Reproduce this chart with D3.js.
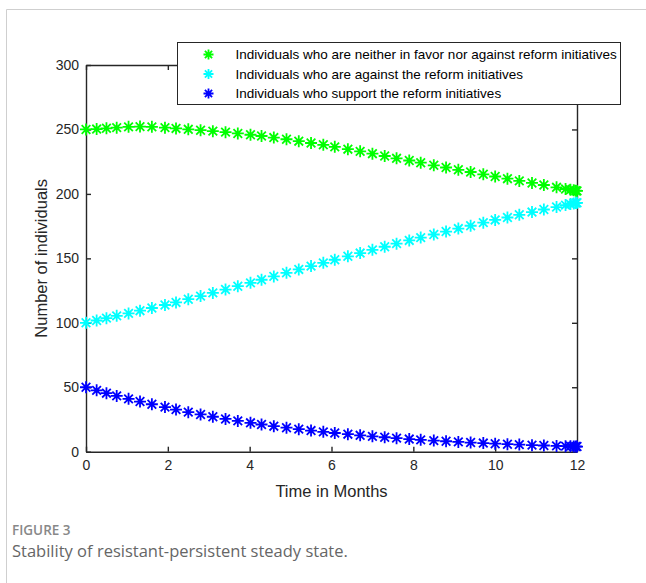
<!DOCTYPE html>
<html>
<head>
<meta charset="utf-8">
<script src="https://cdn.jsdelivr.net/npm/d3@7"></script>
<style>
  body { margin: 0; background: #fff; }
  svg { display: block; }
</style>
</head>
<body>
<script>
// time points (months) - solver output steps
var months = [0, 0.26, 0.5, 0.75, 1.04, 1.32, 1.61, 1.93, 2.2, 2.5, 2.8, 3.1, 3.41, 3.71, 4.02,
  4.29, 4.59, 4.9, 5.2, 5.5, 5.8, 6.08, 6.4, 6.7, 7.0, 7.3, 7.59, 7.9, 8.18, 8.5, 8.8, 9.1,
  9.4, 9.71, 10.0, 10.3, 10.59, 10.9, 11.19, 11.5, 11.72, 11.84, 11.92, 11.97, 12];

var neutral = [250, 250.3, 250.9, 251.4, 252, 252.2, 252, 251.4, 250.8, 250.1, 249.4, 248.7, 247.9, 246.9, 245.9,
  244.9, 243.7, 242.4, 240.9, 239.5, 238.1, 236.5, 234.7, 233, 231.2, 229.4, 227.6, 225.9, 224.2, 222.2, 220.5, 218.7,
  217, 215.2, 213.5, 211.8, 210.1, 208.5, 206.9, 205.1, 203.8, 203.2, 202.8, 202.5, 202.3];

var against = [100, 101.8, 103.6, 105.4, 107.3, 109.4, 111.5, 113.8, 115.8, 118.3, 120.7, 123.2, 125.8, 128.4, 131,
  133.4, 136, 138.8, 141.4, 144, 146.5, 148.9, 151.6, 154.1, 156.6, 159, 161.4, 163.9, 166.1, 168.5, 170.8, 173.1,
  175.3, 177.7, 179.8, 181.7, 183.8, 185.9, 187.9, 189.8, 191.3, 192.1, 192.6, 192.9, 193.1];

var support = [50, 47.6, 45.4, 43.3, 41, 38.9, 36.8, 34.6, 32.7, 30.7, 28.9, 27.1, 25.4, 23.9, 22.4,
  21.1, 19.8, 18.6, 17.5, 16.4, 15.4, 14.5, 13.6, 12.7, 11.9, 11.2, 10.5, 9.8, 9.2, 8.6, 8.1, 7.6,
  7.1, 6.7, 6.2, 5.8, 5.5, 5.1, 4.8, 4.5, 4.3, 4.2, 4.1, 4.05, 4.0];

var seriesNames = [
  "Individuals who are neither in favor nor against reform initiatives",
  "Individuals who are against the reform initiatives",
  "Individuals who support the reform initiatives"
];
var seriesColors = ["#00ff00", "#00ffff", "#0000ff"];
var seriesValues = [neutral, against, support];

var xTicks = [0, 2, 4, 6, 8, 10, 12];
var yTicks = [0, 50, 100, 150, 200, 250, 300];

var W = 646, H = 583;
var pLeft = 86, pRight = 577, pTop = 65, pBottom = 451.7;
var axisColor = "#262626";
var font = "Arial, 'Liberation Sans', Helvetica, sans-serif";

var svg = d3.select("body").append("svg")
  .attr("width", W)
  .attr("height", H);

// card frame
svg.append("path")
  .attr("d", "M6.5," + H + "V9.5H" + W)
  .attr("fill", "none")
  .attr("stroke", "#cfcfcf")
  .attr("stroke-width", 1);

var xScale = d3.scaleLinear().domain([0, 12]).range([pLeft, pRight]);
var yScale = d3.scaleLinear().domain([0, 300]).range([pBottom, pTop]);

// asterisk marker, like matlab '*'
function star(r) {
  var d = r * 0.72;
  return "M" + (-r) + ",0H" + r + "M0," + (-r) + "V" + r +
    "M" + (-d) + "," + (-d) + "L" + d + "," + d +
    "M" + (-d) + "," + d + "L" + d + "," + (-d);
}

// axes
function styleAxis(g) {
  g.selectAll("path.domain").attr("stroke", axisColor).attr("stroke-width", 1.4);
  g.selectAll(".tick line").attr("stroke", axisColor).attr("stroke-width", 1.4);
  g.selectAll(".tick text").attr("fill", axisColor)
    .attr("font-family", font).attr("font-size", "14px");
}

svg.append("g")
  .attr("transform", "translate(0," + pBottom + ")")
  .call(d3.axisBottom(xScale).tickValues(xTicks).tickSize(-5).tickSizeOuter(0).tickPadding(8))
  .call(styleAxis);

svg.append("g")
  .attr("transform", "translate(0," + pTop + ")")
  .call(d3.axisTop(xScale).tickValues(xTicks).tickSize(-5).tickSizeOuter(0).tickFormat(""))
  .call(styleAxis);

svg.append("g")
  .attr("transform", "translate(" + pLeft + ",0)")
  .call(d3.axisLeft(yScale).tickValues(yTicks).tickSize(-5).tickSizeOuter(0).tickPadding(7))
  .call(styleAxis);

svg.append("g")
  .attr("transform", "translate(" + pRight + ",0)")
  .call(d3.axisRight(yScale).tickValues(yTicks).tickSize(-5).tickSizeOuter(0).tickFormat(""))
  .call(styleAxis);

// markers
seriesValues.forEach(function(vals, i) {
  svg.append("g").selectAll("path")
    .data(vals)
    .enter()
    .append("path")
    .attr("transform", function(d, j) {
      return "translate(" + xScale(months[j]) + "," + yScale(d) + ")";
    })
    .attr("d", star(6))
    .attr("fill", "none")
    .attr("stroke", seriesColors[i])
    .attr("stroke-width", 1.8);
});

// axis titles
svg.append("text")
  .attr("x", (pLeft + pRight) / 2)
  .attr("y", 497)
  .attr("text-anchor", "middle")
  .attr("font-family", font)
  .attr("font-size", "16.5px")
  .attr("fill", axisColor)
  .text("Time in Months");

svg.append("text")
  .attr("transform", "translate(47," + ((pTop + pBottom) / 2) + ") rotate(-90)")
  .attr("text-anchor", "middle")
  .attr("font-family", font)
  .attr("font-size", "16.5px")
  .attr("fill", axisColor)
  .text("Number of individuals");

// legend
var legend = svg.append("g").attr("transform", "translate(177.5,42.5)");
legend.append("rect")
  .attr("width", 443)
  .attr("height", 62)
  .attr("fill", "#fff")
  .attr("stroke", axisColor)
  .attr("stroke-width", 1);

seriesNames.forEach(function(name, i) {
  var yy = 12 + i * 19.5;
  legend.append("path")
    .attr("transform", "translate(31," + yy + ")")
    .attr("d", star(5))
    .attr("fill", "none")
    .attr("stroke", seriesColors[i])
    .attr("stroke-width", 1.8);
  legend.append("text")
    .attr("x", 58)
    .attr("y", yy + 4.5)
    .attr("font-family", font)
    .attr("font-size", "13.5px")
    .attr("fill", "#000")
    .text(name);
});

// caption
svg.append("text")
  .attr("x", 12)
  .attr("y", 535)
  .attr("font-family", "'Open Sans', 'Noto Sans', sans-serif")
  .attr("font-weight", 600)
  .attr("font-size", "13.5px")
  .attr("fill", "#888")
  .text("FIGURE 3");

svg.append("text")
  .attr("x", 12)
  .attr("y", 557)
  .attr("font-family", "'Open Sans', 'Noto Sans', sans-serif")
  .attr("font-size", "16.5px")
  .attr("fill", "#666")
  .text("Stability of resistant-persistent steady state.");
</script>
</body>
</html>
